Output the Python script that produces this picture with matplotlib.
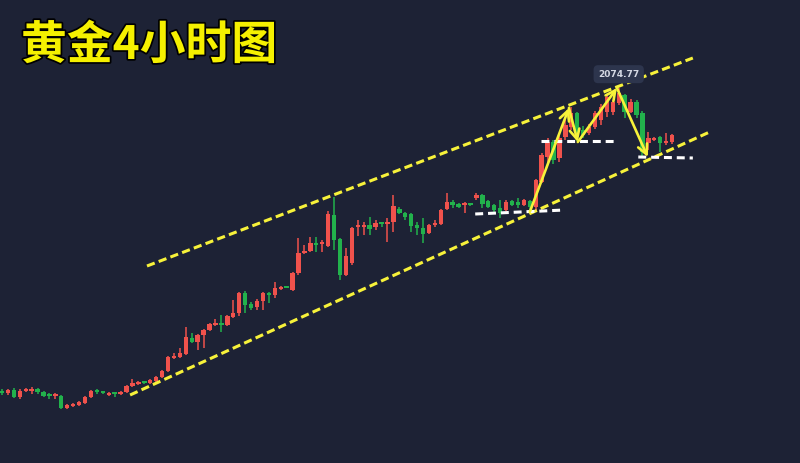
import matplotlib
matplotlib.use("Agg")
import matplotlib.pyplot as plt
import matplotlib.patheffects as pe
import numpy as np

# 4H gold candles, red = up, green = down
opens = [1923.3, 1922.3, 1923.8, 1920.3, 1923.3, 1923.3, 1924.3, 1922.8, 1921.3, 1920.8,
         1920.8, 1914.8, 1916.0, 1916.3, 1917.3, 1920.3, 1923.3, 1922.8, 1921.3, 1922.3,
         1921.8, 1922.8, 1925.8, 1926.8, 1927.8, 1927.3, 1928.3, 1930.3, 1933.3, 1939.8,
         1940.3, 1941.8, 1949.8, 1947.8, 1951.3, 1953.8, 1956.3, 1957.3, 1956.3, 1960.3,
         1962.3, 1972.3, 1966.8, 1965.3, 1968.3, 1972.3, 1971.3, 1974.3, 1975.3, 1973.8,
         1982.3, 1992.3, 1993.3, 1997.3, 1996.8, 1995.8, 2011.3, 1999.3, 1981.3, 1987.3,
         2005.3, 2005.3, 2006.3, 2005.3, 2007.3, 2007.0, 2007.8, 2014.3, 2012.3, 2011.8,
         2006.3, 2004.8, 2002.3, 2006.5, 2006.8, 2014.3, 2017.8, 2016.8, 2016.3, 2016.8,
         2019.8, 2021.3, 2018.3, 2016.3, 2014.8, 2013.8, 2018.3, 2017.8, 2016.3, 2018.3,
         2015.3, 2027.8, 2040.3, 2047.8, 2039.8, 2050.3, 2055.3, 2062.3, 2053.8, 2052.3,
         2055.3, 2058.8, 2062.8, 2062.8, 2067.3, 2071.3, 2062.8, 2067.8, 2062.3, 2047.3,
         2049.0, 2050.3, 2047.3, 2047.8]
closes = [1922.3, 1923.8, 1920.3, 1923.3, 1924.3, 1924.3, 1922.8, 1920.8, 1921.0, 1921.3,
          1914.8, 1916.3, 1916.3, 1917.8, 1920.3, 1923.3, 1923.0, 1922.5, 1922.3, 1922.0,
          1922.8, 1925.8, 1927.3, 1927.8, 1927.5, 1928.8, 1930.3, 1933.3, 1940.3, 1940.8,
          1942.3, 1950.3, 1947.8, 1951.3, 1953.8, 1956.8, 1957.3, 1956.3, 1960.8, 1962.3,
          1972.3, 1966.3, 1964.8, 1968.3, 1972.3, 1971.3, 1974.8, 1975.3, 1975.0, 1982.3,
          1992.3, 1993.3, 1997.3, 1996.3, 1997.3, 2011.8, 1998.8, 1981.3, 1990.8, 2004.8,
          2005.8, 2006.3, 2004.3, 2007.3, 2007.0, 2007.3, 2015.8, 2012.3, 2010.3, 2005.8,
          2004.8, 2001.8, 2006.3, 2006.8, 2013.8, 2017.8, 2016.3, 2015.3, 2017.3, 2016.5,
          2021.3, 2016.8, 2015.3, 2013.8, 2012.3, 2017.8, 2016.3, 2016.3, 2018.8, 2015.3,
          2028.8, 2041.3, 2047.8, 2038.8, 2049.8, 2056.3, 2062.3, 2052.3, 2051.3, 2055.3,
          2062.3, 2065.3, 2070.3, 2067.8, 2072.3, 2062.8, 2067.8, 2061.3, 2042.8, 2049.8,
          2049.3, 2047.3, 2048.3, 2051.3]
highs = [1924.3, 1924.3, 1924.8, 1924.3, 1924.8, 1925.3, 1924.8, 1923.3, 1922.3, 1922.3,
         1921.3, 1916.8, 1917.3, 1918.3, 1920.8, 1923.8, 1924.3, 1923.3, 1922.8, 1922.8,
         1923.3, 1926.3, 1929.3, 1928.3, 1928.3, 1929.3, 1930.8, 1933.8, 1940.8, 1942.3,
         1944.8, 1955.3, 1952.3, 1951.8, 1954.3, 1957.3, 1959.3, 1961.3, 1961.3, 1968.8,
         1972.8, 1973.3, 1967.8, 1969.3, 1972.8, 1972.8, 1977.8, 1975.8, 1975.8, 1982.8,
         1999.8, 1996.3, 2000.3, 2000.3, 1998.8, 2013.3, 2020.3, 1999.8, 1994.8, 2005.3,
         2008.8, 2007.8, 2010.3, 2008.8, 2007.8, 2009.8, 2021.3, 2015.3, 2012.8, 2012.3,
         2007.8, 2009.8, 2006.8, 2008.8, 2014.3, 2022.3, 2018.8, 2017.3, 2017.8, 2017.3,
         2022.3, 2021.8, 2018.8, 2016.8, 2018.8, 2018.8, 2018.8, 2019.8, 2019.3, 2018.8,
         2029.3, 2042.3, 2049.8, 2048.8, 2050.8, 2058.8, 2065.3, 2062.8, 2055.8, 2056.8,
         2063.3, 2066.8, 2071.3, 2068.8, 2074.77, 2071.8, 2069.3, 2068.8, 2063.3, 2052.8,
         2050.3, 2050.8, 2052.3, 2051.8]
lows = [1921.3, 1921.3, 1919.8, 1919.3, 1922.8, 1921.8, 1921.8, 1920.3, 1919.3, 1919.3,
        1914.3, 1914.3, 1915.3, 1915.8, 1916.8, 1919.8, 1921.8, 1921.8, 1920.8, 1920.3,
        1921.3, 1922.3, 1925.3, 1926.3, 1926.8, 1926.8, 1927.8, 1929.8, 1932.8, 1939.3,
        1939.8, 1941.3, 1947.3, 1943.8, 1944.8, 1953.3, 1955.8, 1952.8, 1955.8, 1959.8,
        1960.8, 1962.3, 1963.8, 1963.8, 1963.8, 1967.3, 1969.8, 1973.8, 1974.8, 1973.3,
        1981.3, 1991.8, 1992.8, 1992.8, 1992.8, 1995.3, 1993.8, 1978.8, 1980.8, 1986.3,
        2000.8, 2001.3, 2001.3, 2003.8, 2005.3, 1997.8, 2002.8, 2011.8, 2008.8, 2002.8,
        2001.3, 1997.3, 2001.8, 2005.3, 2006.3, 2013.8, 2014.8, 2014.8, 2012.3, 2015.8,
        2018.8, 2014.8, 2014.8, 2012.8, 2009.8, 2013.3, 2015.8, 2014.8, 2015.8, 2013.3,
        2012.8, 2027.3, 2037.3, 2036.8, 2037.8, 2048.8, 2053.8, 2048.3, 2049.8, 2051.3,
        2054.3, 2056.3, 2060.3, 2061.3, 2066.3, 2059.8, 2062.3, 2059.8, 2039.8, 2043.8,
        2048.3, 2042.8, 2046.3, 2046.8]

# channel lines (candle index, price)
upper_x = [24.45, 116.5]
upper_y = [1985.8, 2089.8]
lower_x = [21.6, 119.7]
lower_y = [1921.3, 2053.3]

# white support lines
support_x = [[79.8, 94.9], [90.9, 103.4], [107.3, 116.5]]
support_y = [[2011.8, 2013.8], [2048.3, 2048.3], [2040.3, 2039.8]]

# zig-zag arrow path
zig_x = [89.0, 95.6, 97.1, 103.7, 108.9]
zig_y = [2012.8, 2064.8, 2047.8, 2074.8, 2040.3]

bg = '#1d2235'
up_col = '#f0524c'
down_col = '#22b24c'
yellow = '#f7f23a'

fig = plt.figure(figsize=(8, 4.63), dpi=100)
fig.patch.set_facecolor(bg)
ax = fig.add_axes([0, 0, 1, 1])
ax.set_facecolor(bg)

o = np.array(opens)
c = np.array(closes)
h = np.array(highs)
l = np.array(lows)
idx = np.arange(len(o))
cols = np.where(c >= o, up_col, down_col)

ax.vlines(idx, l, h, colors=cols, linewidth=1.1, zorder=2)
body_lo = np.minimum(o, c)
body_h = np.maximum(np.abs(c - o), 0.9)
ax.bar(idx, body_h, bottom=body_lo, width=0.74, color=cols, linewidth=0, zorder=3)

dash = (0, (2.7, 1.4))
ax.plot(upper_x, upper_y, color=yellow, lw=2.2, linestyle=dash, zorder=4)
ax.plot(lower_x, lower_y, color=yellow, lw=2.2, linestyle=dash, zorder=4)
for sx, sy in zip(support_x, support_y):
    ax.plot(sx, sy, color='white', lw=2.2, linestyle=(0, (2.6, 1.6)), zorder=4)

for i in range(len(zig_x) - 1):
    ax.annotate('', xy=(zig_x[i + 1], zig_y[i + 1]), xytext=(zig_x[i], zig_y[i]),
                arrowprops=dict(arrowstyle='->,head_length=0.7,head_width=0.35',
                                color=yellow, lw=1.9, shrinkA=0, shrinkB=0),
                zorder=5)

# high price tag
top = int(np.argmax(h))
ax.annotate(f'{h[top]:.2f}', xy=(idx[top], h[top]), xytext=(0, 10),
            textcoords='offset points', ha='center', va='center',
            fontsize=6.5, fontweight='bold', color='#d5d9e4',
            bbox=dict(boxstyle='round,pad=0.5', fc='#2d354d', ec='none'), zorder=6)

ax.set_xlim(-0.337, 134.57)
ax.set_ylim(1887.3, 2118.8)
ax.axis('off')

fig.text(21 / 800, 1 - 46 / 463, '黄金4小时图', family=['Noto Sans CJK SC', 'DejaVu Sans'],
         fontsize=33, fontweight='bold', color='#f5f000', va='center', ha='left',
         path_effects=[pe.withStroke(linewidth=2.5, foreground='black')])

fig.savefig('out.png', dpi=100, facecolor=bg)
